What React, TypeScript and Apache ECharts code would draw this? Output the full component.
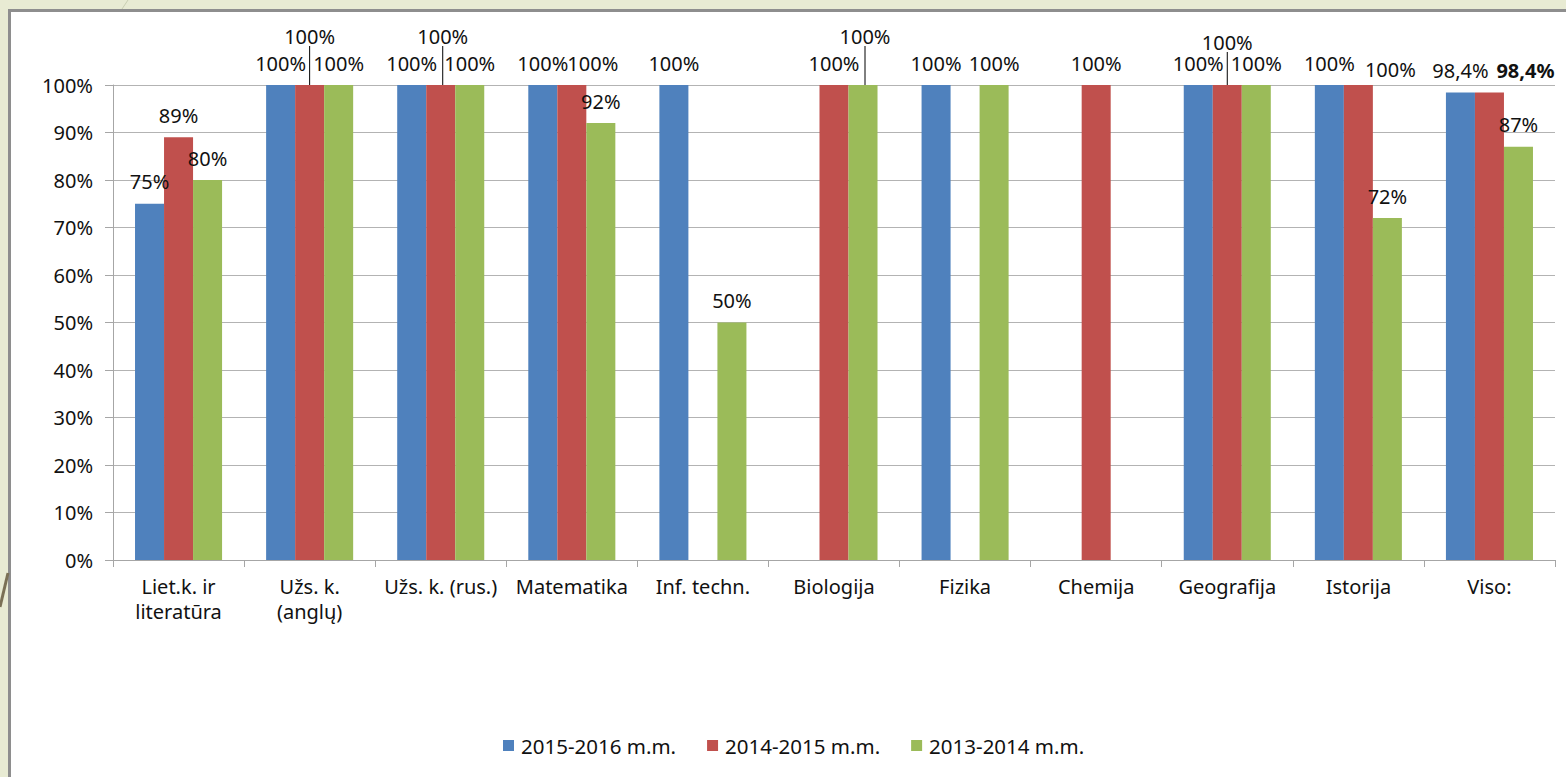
import React, { useEffect, useRef } from "react";
import * as echarts from "echarts";

const categories = [
  "Liet.k. ir\nliteratūra",
  "Užs. k.\n(anglų)",
  "Užs. k. (rus.)",
  "Matematika",
  "Inf. techn.",
  "Biologija",
  "Fizika",
  "Chemija",
  "Geografija",
  "Istorija",
  "Viso:",
];
const seriesNames = ["2015-2016 m.m.", "2014-2015 m.m.", "2013-2014 m.m."];
const values2015_2016: (number | null)[] = [75, 100, 100, 100, 100, null, 100, null, 100, 100, 98.4];
const values2014_2015: (number | null)[] = [89, 100, 100, 100, null, 100, null, 100, 100, 100, 98.4];
const values2013_2014: (number | null)[] = [80, 100, 100, 92, 50, 100, 100, null, 100, 72, 87];
const yTicks = { min: 0, max: 100, interval: 10 };

const colors = ["#4F81BD", "#C0504D", "#9BBB59"];
const FONT = "'Noto Sans', sans-serif";
const TEXT = "#111111";

// label nudges (layout only): [seriesIndex, dataIndex, dx, dy, leaderLine, bold]
const labelNudges: [number, number, number, number, boolean, boolean][] = [
  [1, 1, 0, -27, true, false],
  [1, 2, 2, -27, true, false],
  [1, 3, 21, 0, false, false],
  [2, 5, 2, -27, true, false],
  [1, 8, 0, -21, true, false],
  [1, 9, 32, 6, false, false],
  [1, 10, 36, 0, false, true],
];

const fmt = (v: number) => `${String(v).replace(".", ",")}%`;

function buildData(si: number, vals: (number | null)[]) {
  return vals.map((v, di) => {
    const n = labelNudges.find((x) => x[0] === si && x[1] === di);
    const item: any = { value: v };
    if (n) {
      if (n[4]) item.labelLine = { show: true, lineStyle: { color: "#000", width: 1 } };
      if (n[5]) item.label = { fontWeight: "bold" };
    }
    return item;
  });
}

export default function App() {
  const ref = useRef<HTMLDivElement>(null);
  useEffect(() => {
    if (!ref.current) return;
    const chart = echarts.init(ref.current, undefined, { renderer: "svg" });
    const all = [values2015_2016, values2014_2015, values2013_2014];
    chart.setOption({
      animation: false,
      backgroundColor: "transparent",
      textStyle: { fontFamily: FONT },
      graphic: [
        {
          type: "polyline",
          shape: { points: [[0, 607], [8, 573]] },
          style: { stroke: "#7a7055", lineWidth: 3, fill: "none" },
        },
        {
          type: "line",
          shape: { x1: 128, y1: 0, x2: 122, y2: 9 },
          style: { stroke: "#c9ceb2", lineWidth: 1 },
        },
      ],
      grid: { left: 113, right: 11, top: 85, bottom: 217, containLabel: false },
      legend: {
        bottom: 16,
        left: 498,
        icon: "rect",
        itemWidth: 11,
        itemHeight: 11,
        itemGap: 31,
        textStyle: { fontFamily: FONT, fontSize: 20.5, color: TEXT, padding: [0, 0, 0, 2] },
        data: seriesNames,
      },
      xAxis: {
        type: "category",
        data: categories,
        axisLine: { show: true, lineStyle: { color: "#a6a6a6", width: 1 } },
        axisTick: { show: true, length: 7, lineStyle: { color: "#a6a6a6" } },
        axisLabel: {
          fontFamily: FONT,
          fontSize: 20,
          color: TEXT,
          margin: 14,
          lineHeight: 25,
          interval: 0,
        },
        splitLine: { show: false },
      },
      yAxis: {
        type: "value",
        min: yTicks.min,
        max: yTicks.max,
        interval: yTicks.interval,
        axisLine: { show: true, lineStyle: { color: "#a6a6a6", width: 1 } },
        axisTick: { show: true, length: 8, lineStyle: { color: "#a6a6a6" } },
        axisLabel: {
          fontFamily: FONT,
          fontSize: 20,
          color: TEXT,
          margin: 20,
          formatter: "{value}%",
        },
        splitLine: { show: true, lineStyle: { color: "#b3b3b3", width: 1 } },
      },
      series: all.map((vals, si) => ({
        type: "bar",
        name: seriesNames[si],
        data: buildData(si, vals),
        itemStyle: { color: colors[si] },
        barGap: "0%",
        barCategoryGap: "33.6%",
        label: {
          show: true,
          position: "top",
          distance: 12,
          fontFamily: FONT,
          fontSize: 20,
          color: TEXT,
          formatter: (p: any) => fmt(p.value),
        },
        labelLayout: (params: any) => {
          const n = labelNudges.find((x) => x[0] === si && x[1] === params.dataIndex);
          if (!n) return {};
          return { dx: n[2], dy: n[3] };
        },
      })),
    });
    return () => chart.dispose();
  }, []);
  return (
    <div
      style={{
        position: "absolute",
        left: 0,
        top: 0,
        width: 1566,
        height: 777,
        overflow: "hidden",
        background: "#e8ebd3",
      }}
    >
      <div
        style={{
          position: "absolute",
          left: 8,
          top: 9,
          width: 1600,
          height: 800,
          background: "#ffffff",
          border: "3px solid #8e8e8e",
        }}
      />
      <div ref={ref} style={{ position: "absolute", left: 0, top: 0, width: 1566, height: 777 }} />
    </div>
  );
}
